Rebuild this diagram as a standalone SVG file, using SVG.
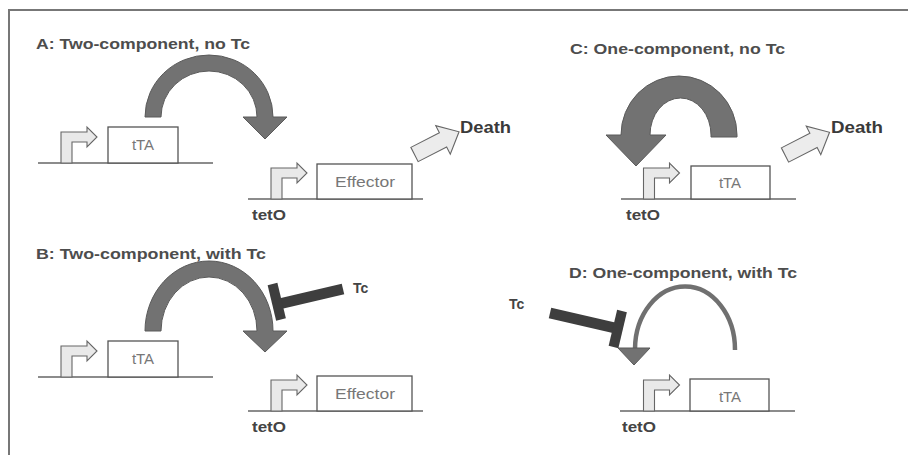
<svg xmlns="http://www.w3.org/2000/svg" width="908" height="455" viewBox="0 0 908 455">
<defs>
<style>
.title{font-family:"Liberation Sans",Arial,sans-serif;font-weight:bold;font-size:15px;fill:#4d4d4d}
.lbl{font-family:"Liberation Sans",Arial,sans-serif;font-weight:bold;font-size:14px;fill:#444}
.death{font-family:"Liberation Sans",Arial,sans-serif;font-weight:bold;font-size:16px;fill:#3a3a3a}
.box{fill:#fff;stroke:#555;stroke-width:1.3}
.boxt{font-family:"Liberation Sans",Arial,sans-serif;font-size:15px;fill:#777;text-anchor:middle}
.dna{stroke:#666;stroke-width:1.6;fill:none}
.prom{fill:#e9e9e9;stroke:#666;stroke-width:1.1;stroke-linejoin:miter}
.big{fill:#727272;stroke:#5a5a5a;stroke-width:1}
.inh{stroke:#3e3e3e;stroke-linecap:butt;fill:none}
.darrow{fill:#ececec;stroke:#666;stroke-width:1.1}
</style>
<path id="prom" class="prom" d="M0,0 L0,-31 L26,-31 L26,-36 L36,-26 L26,-16 L26,-21 L11,-21 L11,0 Z"/>
<polygon id="death" class="darrow" points="0,-8 32,-8 32,-16 50,0 32,16 32,8 0,8"/>
</defs>
<g id="frame">
<line x1="8" y1="10" x2="908" y2="10" stroke="#777" stroke-width="2"/>
<line x1="9" y1="10" x2="9" y2="455" stroke="#777" stroke-width="2"/>
</g>

<g id="panelA">
<text class="title" x="36" y="49" textLength="214" lengthAdjust="spacingAndGlyphs">A: Two-component, no Tc</text>
<g id="A_tTA">
<line class="dna" x1="38" y1="163" x2="213" y2="163"/>
<use href="#prom" x="61" y="163"/>
<rect class="box" x="108" y="127" width="70" height="36"/>
<text class="boxt" x="143" y="150">tTA</text>
</g>
<g id="A_effector">
<line class="dna" x1="248" y1="199" x2="423" y2="199"/>
<use href="#prom" x="271" y="199"/>
<rect class="box" x="317" y="164" width="95" height="35"/>
<text class="boxt" x="365" y="187" textLength="60" lengthAdjust="spacingAndGlyphs">Effector</text>
<text class="lbl" x="252" y="220" textLength="34" lengthAdjust="spacingAndGlyphs">tetO</text>
</g>
<g id="A_death">
<use href="#death" transform="translate(414.5,154.5) rotate(-27)"/>
<text class="death" x="460" y="133" textLength="51" lengthAdjust="spacingAndGlyphs">Death</text>
</g>
</g>

<g id="panelB">
<text class="title" x="36" y="259" textLength="230" lengthAdjust="spacingAndGlyphs">B: Two-component, with Tc</text>
<g id="B_tTA">
<line class="dna" x1="38" y1="377" x2="213" y2="377"/>
<use href="#prom" x="61" y="377"/>
<rect class="box" x="108" y="341" width="70" height="36"/>
<text class="boxt" x="143" y="364">tTA</text>
</g>
<g id="B_effector">
<line class="dna" x1="248" y1="411" x2="423" y2="411"/>
<use href="#prom" x="271" y="411"/>
<rect class="box" x="317" y="376" width="95" height="35"/>
<text class="boxt" x="365" y="399" textLength="60" lengthAdjust="spacingAndGlyphs">Effector</text>
<text class="lbl" x="252" y="432" textLength="34" lengthAdjust="spacingAndGlyphs">tetO</text>
</g>
<g id="B_tc">
<text class="lbl" x="353" y="293">Tc</text>
</g>
</g>

<g id="panelC">
<text class="title" x="570" y="54" textLength="215" lengthAdjust="spacingAndGlyphs">C: One-component, no Tc</text>
<g id="C_tTA">
<line class="dna" x1="621" y1="199" x2="796" y2="199"/>
<use href="#prom" x="643.5" y="199"/>
<rect class="box" x="691" y="166" width="79" height="33"/>
<text class="boxt" x="730" y="188">tTA</text>
<text class="lbl" x="626" y="220" textLength="34" lengthAdjust="spacingAndGlyphs">tetO</text>
</g>
<g id="C_death">
<use href="#death" transform="translate(785,155) rotate(-27)"/>
<text class="death" x="831" y="133" textLength="52" lengthAdjust="spacingAndGlyphs">Death</text>
</g>
</g>

<g id="panelD">
<text class="title" x="569" y="278" textLength="228" lengthAdjust="spacingAndGlyphs">D: One-component, with Tc</text>
<g id="D_tTA">
<line class="dna" x1="620" y1="411" x2="795" y2="411"/>
<use href="#prom" x="643.5" y="411"/>
<rect class="box" x="690" y="379" width="79" height="32"/>
<text class="boxt" x="730" y="402">tTA</text>
<text class="lbl" x="622" y="432" textLength="34" lengthAdjust="spacingAndGlyphs">tetO</text>
</g>
<g id="D_tc">
<text class="lbl" x="509" y="309">Tc</text>
</g>
</g>

<g id="connectors">
<path id="A_arc" class="big" d="M145,117 A64,62 0 0 1 273,117 L287,117 L265,139 L243,117 L257,117 A48,46 0 0 0 161,117 Z"/>
<path id="B_arc" class="big" d="M145,331 A64,70 0 0 1 273,331 L287,331 L265,352 L243,331 L257,331 A48,54 0 0 0 161,331 Z"/>
<g id="B_inhibit">
<line class="inh" x1="343" y1="289" x2="279" y2="304" stroke-width="11"/>
<line class="inh" x1="272.5" y1="284" x2="281" y2="319.5" stroke-width="10"/>
</g>
<path id="C_arc" class="big" d="M737,137 L737,135 A58,59 0 0 0 621,135 L606,135 L636,166 L666,135 L650,135 A30.5,37 0 0 1 711,135 L711,137 Z"/>
<g id="D_arc">
<path d="M735,350 A50,63 0 0 0 635,349" fill="none" stroke="#707070" stroke-width="4.5"/>
<polygon points="618,348 650,348 634,365" class="big"/>
</g>
<g id="D_inhibit">
<line class="inh" x1="550" y1="313" x2="615" y2="328" stroke-width="11"/>
<line class="inh" x1="622" y1="311" x2="613.5" y2="347" stroke-width="10"/>
</g>
</g>
</svg>
